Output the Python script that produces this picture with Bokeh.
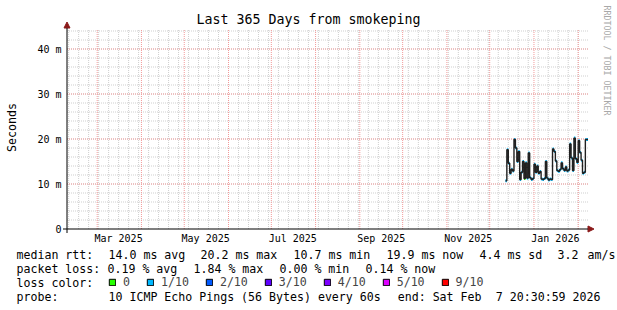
import math
from datetime import datetime, timedelta

import pandas as pd
from bokeh.plotting import figure
from bokeh.models import (Range1d, Arrow, NormalHead, Label, LabelSet, ColumnDataSource,
                          Legend, LegendItem)
from bokeh.core.properties import value
from bokeh.embed import file_html
from bokeh.resources import INLINE

# ---------------- data ----------------
END = datetime(2026, 2, 7, 20, 30, 59)
START = END - timedelta(days=365)

first_day = datetime(2025, 12, 12)
median_ms = [10.7, 17.6, 14.6, 12.4, 13.3, 12.9, 19.9, 18.0, 15.0, 17.2,
             11.0, 12.6, 15.0, 11.2, 14.7, 11.3, 16.9, 11.4, 11.0, 11.2,
             14.4, 12.6, 14.0, 12.4, 12.8, 11.1, 11.0, 11.2, 15.0, 11.3,
             10.9, 11.1, 11.0, 17.8, 17.2, 15.1, 13.0, 12.8, 13.2, 14.7,
             13.4, 13.0, 13.8, 12.9, 13.1, 18.9, 15.8, 13.0, 20.2, 15.6,
             14.8, 19.6, 17.0, 15.3, 12.4, 12.6, 19.9, 19.9]
loss_class = [1, 1, 1, 1, 1, 1, 1, 1, 1, 1,
              1, 1, 1, 0, 1, 1, 1, 1, 1, 1,
              1, 1, 1, 1, 1, 1, 1, 1, 1, 1,
              1, 1, 1, 1, 1, 1, 1, 1, 1, 1,
              1, 1, 1, 1, 1, 1, 1, 1, 1, 1,
              1, 1, 1, 1, 1, 1, 1, 1]

loss_labels = ["0", "1/10", "2/10", "3/10", "4/10", "5/10", "9/10"]
loss_colors = ["#26ff00", "#00b8ff", "#0059ff", "#5e00ff", "#7e00ff", "#dd00ff", "#ff0000"]

month_labels = ["Mar 2025", "May 2025", "Jul 2025", "Sep 2025", "Nov 2025", "Jan 2026"]
y_ticks = [0, 10, 20, 30, 40]
y_tick_labels = ["0", "10 m", "20 m", "30 m", "40 m"]
y_minor = list(range(2, 45, 2))
Y_MAX = 44.444

title_text = "Last 365 Days from smokeping"
axis_title = "Seconds"
rtt_head = "median rtt:"
rtt_stats = ["14.0 ms avg", "20.2 ms max", "10.7 ms min", "19.9 ms now", "4.4 ms sd", "3.2", "am/s"]
loss_head = "packet loss:"
loss_stats = ["0.19 % avg", "1.84 % max", "0.00 % min", "0.14 % now"]
color_head = "loss color:"
probe_head = "probe:"
probe_text = "10 ICMP Echo Pings (56 Bytes) every 60s"
end_text = ["end: Sat Feb", "7 20:30:59 2026"]
watermark = "RRDTOOL / TOBI OETIKER"


def ms(dt):
    return pd.Timestamp(dt).value // 10**6


# ---------------- derived ----------------
days = [first_day + timedelta(days=i) for i in range(len(median_ms))]
day_ends = [min(d + timedelta(days=1), END) for d in days]
step_x = days + [END]
step_y = median_ms + [median_ms[-1]]

month_starts = []
d = datetime(START.year, START.month, 1)
while d <= END:
    if d >= START:
        month_starts.append(ms(d))
    d = datetime(d.year + (d.month // 12), d.month % 12 + 1, 1)

sundays = []
d = datetime(2025, 2, 9)
while d <= END:
    sundays.append(ms(d))
    d += timedelta(days=7)

label_ticks = [ms(datetime.strptime(lab, "%b %Y") + timedelta(days=15)) for lab in month_labels]

# ---------------- figure: frame covers whole canvas ----------------
FONT = "DejaVu Sans Mono"
W, H = 617, 310
PX0, PX1 = 66.5, 587.5      # plot area left/right (px)
PY0 = 228.5                 # y = 0 (px from top)
KY = 4.5                    # px per ms
kx = (PX1 - PX0) / (ms(END) - ms(START))
x0 = ms(START) - PX0 / kx
y0 = -(H - PY0) / KY

p = figure(width=W, height=H, x_range=Range1d(x0, x0 + W / kx),
           y_range=Range1d(y0, y0 + H / KY),
           x_axis_location=None, y_axis_location=None,
           output_backend="svg", toolbar_location=None, min_border=0)
p.outline_line_color = None
p.background_fill_color = "white"
p.border_fill_color = "white"
p.grid.visible = False

# grid lines (drawn through the scales from the tick arrays)
GRAY = "#cfcfcf"
RED = "#f29a9a"
xs, xe = ms(START), ms(END)
p.segment(x0=sundays, x1=sundays, y0=0, y1=Y_MAX, line_color=GRAY, line_dash="1 1", line_width=1)
p.segment(x0=xs, x1=xe, y0=y_minor, y1=y_minor, line_color=GRAY, line_dash="1 1", line_width=1)
p.segment(x0=month_starts, x1=month_starts, y0=0, y1=Y_MAX, line_color=RED, line_dash="1 1", line_width=1)
p.segment(x0=xs, x1=xe, y0=y_ticks[1:], y1=y_ticks[1:], line_color=RED, line_dash="1 1", line_width=1)

# data: loss-coloured median pieces + dark median line
for ci, col in enumerate(loss_colors):
    idx = [i for i, c in enumerate(loss_class) if c == ci]
    if idx:
        p.segment(x0=[days[i] for i in idx], x1=[day_ends[i] for i in idx],
                  y0=[median_ms[i] for i in idx], y1=[median_ms[i] for i in idx],
                  line_color=col, line_width=3)
p.step(step_x, step_y, mode="after", line_color="#202020", line_width=1.4)

# axis lines with arrows
ARROW = "#8b1a1a"
p.add_layout(Arrow(x_start=xs - 4 / kx, y_start=0, x_end=xe + 6 / kx, y_end=0,
                   line_color="black", line_width=1,
                   end=NormalHead(size=6, fill_color=ARROW, line_color=ARROW)))
p.add_layout(Arrow(x_start=xs, y_start=-4 / KY, x_end=xs, y_end=Y_MAX + 7 / KY,
                   line_color="black", line_width=1,
                   end=NormalHead(size=6, fill_color=ARROW, line_color=ARROW)))

# tick labels
p.add_layout(LabelSet(source=ColumnDataSource(dict(y=y_ticks, t=y_tick_labels)),
                      x=61, y="y", x_units="screen", y_units="data", text="t",
                      text_font=value(FONT), text_font_size=value("10px"), text_align="right",
                      text_baseline="middle", text_color="#000000"))
p.add_layout(LabelSet(source=ColumnDataSource(dict(x=label_ticks, t=month_labels)),
                      x="x", y=H - 238, x_units="data", y_units="screen", text="t",
                      text_font=value(FONT), text_font_size=value("10px"), text_align="center",
                      text_baseline="middle", text_color="#000000"))

# legend of loss colours
nan = float("nan")
box_renderers = [p.quad(left=[nan], right=[nan], top=[nan], bottom=[nan], fill_color=c,
                        line_color="black", line_width=1)
                 for c in loss_colors]
legend = Legend(items=[LegendItem(label=lab, renderers=[r]) for lab, r in zip(loss_labels, box_renderers)],
                location=(108, H - 289), orientation="horizontal", glyph_width=8, glyph_height=8,
                label_standoff=7, label_width=0, spacing=16, padding=0, margin=0,
                border_line_color=None, background_fill_alpha=0, label_text_font=FONT,
                label_text_font_size="11.6px", label_height=8)
p.add_layout(legend)


def lab(x, y, text, size="11.6px", align="left", color="#000000", angle=0.0):
    p.add_layout(Label(x=x, y=H - y, x_units="screen", y_units="screen", text=text,
                       text_font=FONT, text_font_size=size, text_align=align,
                       text_baseline="middle", text_color=color, angle=angle))


lab(308, 19, title_text, size="13.3px", align="center")
lab(606, 60, watermark, size="8.3px", align="center", color="#a8a8a8", angle=-math.pi / 2)
lab(11, 127, axis_title, align="center", angle=math.pi / 2)

lab(16, 254, rtt_head)
for xpos, s in zip([108, 200, 293, 386, 479, 557, 587], rtt_stats):
    lab(xpos, 254, s)
lab(16, 268, loss_head)
for xpos, s in zip([107, 193, 279, 365], loss_stats):
    lab(xpos, 268, s)
lab(16, 282, color_head)
lab(16, 296, probe_head)
lab(108, 296, probe_text)
lab(481, 296, end_text[0], align="right")
lab(600, 296, end_text[1], align="right")

open("out.html", "w").write(file_html(p, INLINE))
